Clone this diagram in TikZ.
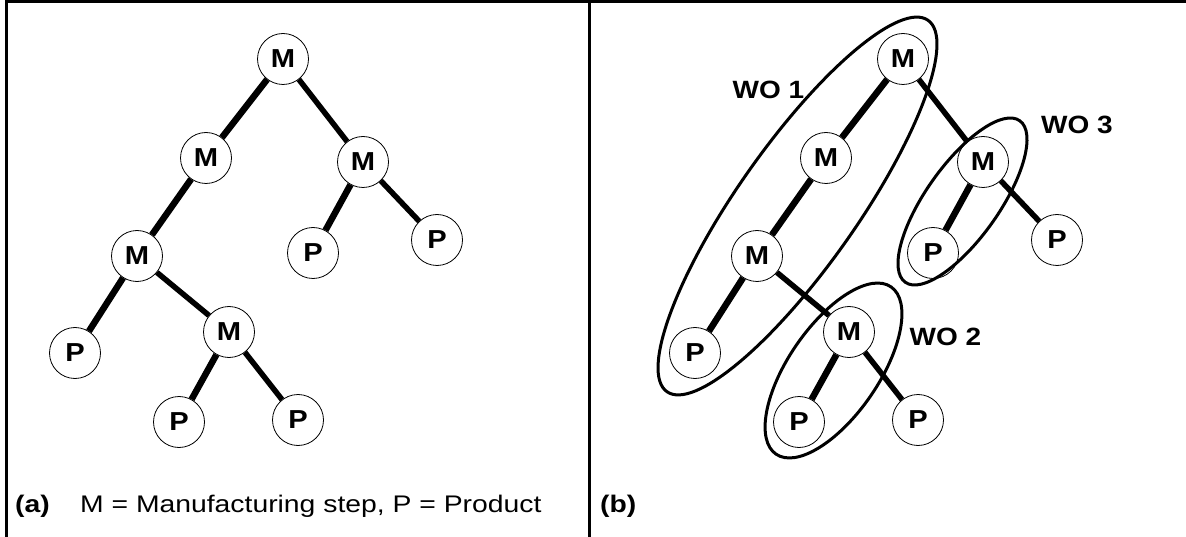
\documentclass[tikz,border=0pt]{standalone}
\usepackage{fontspec}
\setmainfont{Liberation Sans}
\newfontfamily\nodefont{Liberation Sans}[FakeStretch=1.12]
\newfontfamily\capfont{Liberation Sans}[FakeStretch=1.18]
\begin{document}
\begin{tikzpicture}[x=1pt,y=-1pt,
  nd/.style={circle,draw,line width=0.8pt,fill=white,minimum size=51pt,inner sep=0pt,
    font=\nodefont\bfseries\fontsize{26}{26}\selectfont},
  el/.style={line width=6.5pt},
  er/.style={line width=5.5pt},
  wo/.style={line width=3pt},
  frameline/.style={line width=3pt},
  wol/.style={inner sep=0pt,font=\nodefont\bfseries\fontsize{25}{25}\selectfont},
  capbold/.style={anchor=base west,inner sep=0pt,font=\capfont\bfseries\fontsize{24}{24}\selectfont},
  capreg/.style={anchor=base west,inner sep=0pt,font=\capfont\fontsize{24}{24}\selectfont},
]
\useasboundingbox (0,0) rectangle (1186,537);
% frame
\draw[frameline] (6.5,537) -- (6.5,1.5) -- (1186,1.5);
\draw[line width=2.5pt] (589.3,1.5) -- (589.3,537);

\foreach \p/\dx in {a/0,b/620}{
  \node[nd] (\p1)  at (283+\dx,59)  {M};
  \node[nd] (\p2)  at (206+\dx,158) {M};
  \node[nd] (\p3)  at (363+\dx,162) {M};
  \node[nd] (\p4)  at (313+\dx,253) {P};
  \node[nd] (\p5)  at (437+\dx,240) {P};
  \node[nd] (\p6)  at (137+\dx,256) {M};
  \node[nd] (\p7)  at (75+\dx,353)  {P};
  \node[nd] (\p8)  at (229+\dx,332) {M};
  \node[nd] (\p9)  at (179+\dx,422) {P};
  \node[nd] (\p10) at (298+\dx,420) {P};
  \draw[el] (\p1) -- (\p2);
  \draw[er] (\p1) -- (\p3);
  \draw[el] (\p3) -- (\p4);
  \draw[er] (\p3) -- (\p5);
  \draw[el] (\p2) -- (\p6);
  \draw[el] (\p6) -- (\p7);
  \draw[er] (\p6) -- (\p8);
  \draw[el] (\p8) -- (\p9);
  \draw[er] (\p8) -- (\p10);
}

% work orders
\draw[wo, rotate around={54.9:(797.5,206)}] (797.5,206) ellipse [x radius=227pt, y radius=60pt];
\draw[wo, rotate around={55.5:(833.5,370.5)}] (833.5,370.5) ellipse [x radius=101.5pt, y radius=45pt];
\draw[wo, rotate around={54.7:(962.5,201.5)}] (962.5,201.5) ellipse [x radius=99pt, y radius=36.5pt];

\node[wol] (wo1) at (768.5,89.5) {WO 1};
\node[wol] (wo2) at (945.5,337) {WO 2};
\node[wol] (wo3) at (1077,125) {WO 3};

% captions
\node[capbold] (capa) at (15,512) {(a)};
\node[capreg] (capt) at (80,512) {M = Manufacturing step, P = Product};
\node[capbold] (capb) at (600,512) {(b)};
\end{tikzpicture}
\end{document}
